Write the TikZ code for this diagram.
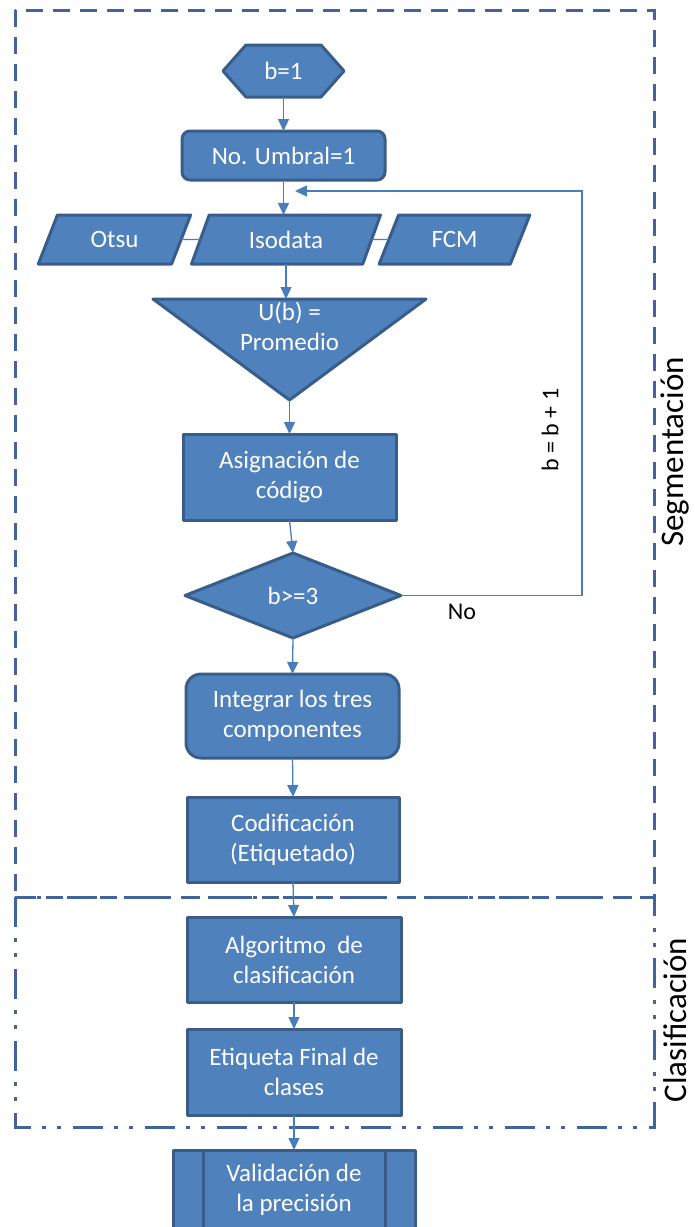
\documentclass[tikz,border=0pt]{standalone}
\usepackage{fontspec}
\setmainfont{Carlito}
\usetikzlibrary{shapes.geometric,arrows.meta}
\definecolor{boxfill}{HTML}{4F81BD}
\definecolor{boxline}{HTML}{385D8A}
\definecolor{connblue}{HTML}{4A7EBB}
\definecolor{framecol}{HTML}{41659B}
\begin{document}
\begin{tikzpicture}[x=1pt,y=-1pt,
 shapestyle/.style={fill=boxfill,draw=boxline,line width=3pt,line join=round},
 txt/.style={text=white,font=\fontsize{25}{30}\selectfont,align=center},
 box/.style={shapestyle,txt,rectangle,inner sep=0pt,outer sep=0pt},
 rbox/.style={box,rounded corners=#1},
 para/.style={shapestyle,txt,trapezium,trapezium left angle=64,trapezium right angle=116,trapezium stretches=true,minimum height=49pt,inner sep=0pt,outer sep=0pt},
 plain/.style={rectangle,inner sep=0pt,outer sep=0pt},
 arrowline/.style={draw=connblue,line width=1.3pt,-{Triangle[length=12pt,width=11pt]}},
 link/.style={draw=connblue,line width=1.3pt},
 segframe/.style={draw=framecol,line width=3pt,dash pattern=on 17pt off 10pt},
 clasframe/.style={draw=framecol,line width=3pt,dash pattern=on 30pt off 11pt on 4pt off 11pt on 4pt off 12pt},
 blacklabel/.style={text=black,font=\fontsize{24}{28}\selectfont,inner sep=0pt},
 sidelabel/.style={text=black,font=\fontsize{33}{38}\selectfont,rotate=90,inner sep=0pt}
]
\useasboundingbox (0,0) rectangle (695,1227);

% frames
\draw[segframe] (15,10) rectangle (654,897);
\draw[clasframe] (15,897) rectangle (654,1127);

% hexagon
\node[plain,minimum width=121pt,minimum height=52pt] (hex) at (283.5,71) {};
\draw[shapestyle] (hex.west) -- ([xshift=23pt]hex.north west) -- ([xshift=-23pt]hex.north east) -- (hex.east) -- ([xshift=-23pt]hex.south east) -- ([xshift=23pt]hex.south west) -- cycle;
\node[txt] (hextext) at (hex.center) {b=1};

\node[rbox=8pt,minimum width=203pt,minimum height=49pt] (umb) at (283.5,155.5) {No. Umbral=1};

% parallelograms
\node[para,minimum width=153pt] (otsu) at (114.5,239.5) {Otsu};
\node[para,minimum width=190pt] (iso) at (286,239.5) {Isodata};
\node[para,minimum width=151pt] (fcm) at (454.5,239.5) {FCM};

% triangle
\node[plain,minimum width=273pt,minimum height=101pt] (avg) at (289.5,349.5) {};
\draw[shapestyle] (avg.north west) -- (avg.north east) -- (avg.south) -- cycle;
\node[txt] (avgtext) at (289.5,326) {U(b) =\\Promedio};

\node[box,minimum width=213pt,minimum height=86pt] (asig) at (289.5,477) {Asignación de\\código};
\node[shapestyle,txt,diamond,minimum width=216pt,minimum height=85pt,inner sep=0pt,outer sep=0pt] (dec) at (293,595.5) {b>=3};
\node[rbox=15pt,minimum width=213pt,minimum height=84pt] (integ) at (292.5,716) {Integrar los tres\\componentes};
\node[box,minimum width=212pt,minimum height=85pt] (codif) at (293,839.5) {Codificación\\(Etiquetado)};
\node[box,minimum width=214pt,minimum height=85pt] (algo) at (294,959.5) {Algoritmo\ \ de\\clasificación};
\node[box,minimum width=214pt,minimum height=86pt] (etiq) at (294,1072) {Etiqueta Final de\\clases};
\node[box,minimum width=242pt,minimum height=80pt] (valid) at (294,1190) {Validación de\\la precisión};
\draw[draw=boxline,line width=3pt] ([xshift=30pt]valid.north west) -- ([xshift=30pt]valid.south west);
\draw[draw=boxline,line width=3pt] ([xshift=-30pt]valid.north east) -- ([xshift=-30pt]valid.south east);

% connectors
\draw[link] (otsu.east) -- (iso.west);
\draw[link] (iso.east) -- (fcm.west);
\draw[arrowline] (hex.south) -- (umb.north);
\draw[arrowline] (umb.south) -- (umb.south |- iso.north);
\draw[arrowline] (iso.south) -- (iso.south |- avg.north);
\draw[arrowline] (avg.south) -- (asig.north);
\draw[arrowline] (asig.south) -- (dec.north);
\draw[arrowline] (dec.south) -- (integ.north);
\draw[arrowline] (integ.south) -- (codif.north);
\draw[arrowline] (codif.south) -- (algo.north);
\draw[arrowline] (algo.south) -- (etiq.north);
\draw[arrowline] (etiq.south) -- (valid.north);
\coordinate (fbend) at (295,191);
\draw[arrowline] (dec.east) -- ++(181,0) |- (fbend);

% labels
\node[blacklabel] (no) at (462,612) {No};
\node[blacklabel,rotate=90] (binc) at (550,430) {b = b + 1};
\node[sidelabel] (seg) at (675,452) {Segmentación};
\node[sidelabel] (clas) at (675,1020) {Clasificación};
\end{tikzpicture}
\end{document}
